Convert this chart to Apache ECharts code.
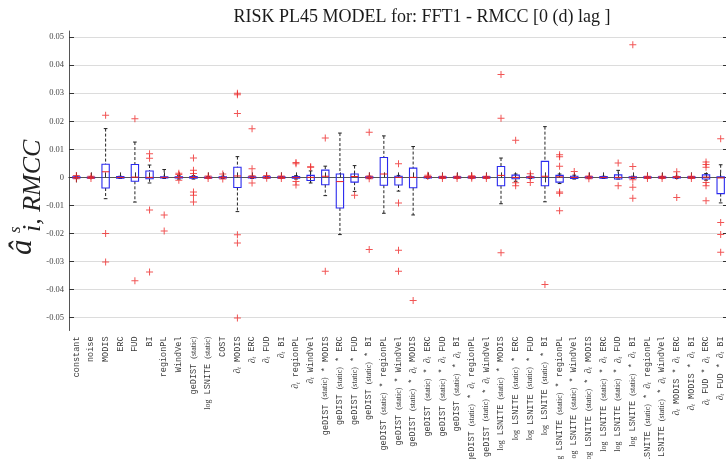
<!DOCTYPE html>
<html>
<head>
<meta charset="utf-8">
<script src="https://cdn.jsdelivr.net/npm/echarts@6/dist/echarts.min.js"></script>
<style>
  html, body { margin: 0; padding: 0; background: #fff; }
  #chart { width: 726px; height: 459px; }
</style>
</head>
<body>
<div id="chart"></div>
<script>
// Regressor names (x axis)
const categories = [
  'constant', 'noise', 'MODIS', 'ERC', 'FUD', 'BI', 'regionPL', 'WindVel',
  'geDIST (static)', 'log LSNITE (static)', 'COST',
  '∂t MODIS', '∂t ERC', '∂t FUD', '∂t BI', '∂t regionPL', '∂t WindVel',
  'geDIST (static) * MODIS', 'geDIST (static) * ERC', 'geDIST (static) * FUD',
  'geDIST (static) * BI', 'geDIST (static) * regionPL', 'geDIST (static) * WindVel',
  'geDIST (static) * ∂t MODIS', 'geDIST (static) * ∂t ERC', 'geDIST (static) * ∂t FUD',
  'geDIST (static) * ∂t BI', 'geDIST (static) * ∂t regionPL', 'geDIST (static) * ∂t WindVel',
  'log LSNITE (static) * MODIS', 'log LSNITE (static) * ERC', 'log LSNITE (static) * FUD',
  'log LSNITE (static) * BI', 'log LSNITE (static) * regionPL', 'log LSNITE (static) * WindVel',
  'log LSNITE (static) * ∂t MODIS', 'log LSNITE (static) * ∂t ERC', 'log LSNITE (static) * ∂t FUD',
  'log LSNITE (static) * ∂t BI', 'log LSNITE (static) * ∂t regionPL', 'log LSNITE (static) * ∂t WindVel',
  '∂t MODIS * ∂t ERC', '∂t MODIS * ∂t BI', '∂t FUD * ∂t ERC', '∂t FUD * ∂t BI'
];

// Box statistics per regressor
const whiskerLow = [
  -0.0003, -0.0002, -0.0076, -0.0004, -0.0088, -0.0020, -0.0004, -0.0006,
  -0.0006, -0.0003, -0.0004,
  -0.0122, -0.0004, -0.0003, -0.0003, -0.0006, -0.0020,
  -0.0065, -0.0204, -0.0050, -0.0004, -0.0128, -0.0049,
  -0.0134, -0.0003, -0.0003, -0.0003, -0.0003, -0.0003,
  -0.0094, -0.0014, -0.0004, -0.0087, -0.0022, -0.0006,
  -0.0003, -0.0004, -0.0006, -0.0004, -0.0003, -0.0003,
  -0.0004, -0.0003, -0.0010, -0.0091
];
const q1 = [
  -0.0002, -0.0001, -0.0038, -0.0003, -0.0014, -0.0005, -0.0002, -0.0002,
  -0.0003, -0.0001, -0.0002,
  -0.0036, -0.0002, -0.0002, -0.0002, -0.0003, -0.0011,
  -0.0026, -0.0109, -0.0017, -0.0002, -0.0028, -0.0027,
  -0.0037, -0.0002, -0.0002, -0.0002, -0.0002, -0.0002,
  -0.0030, -0.0005, -0.0002, -0.0030, -0.0017, -0.0004,
  -0.0002, -0.0003, -0.0006, -0.0002, -0.0002, -0.0002,
  -0.0002, -0.0002, -0.0006, -0.0058
];
const median = [
  0, 0, 0.0020, 0, 0.0001, 0, 0, 0,
  0, 0, 0,
  0.0005, 0, 0, 0, 0, 0,
  0.0004, -0.0015, 0.0003, 0, 0.0012, 0,
  0, 0, 0, 0, 0, 0,
  0.0007, 0, 0, 0.0004, 0.0002, 0,
  0, 0, 0, 0, 0, 0,
  0, 0, 0.0001, -0.0002
];
const q3 = [
  0.0002, 0.0001, 0.0047, 0.0003, 0.0046, 0.0023, 0.0002, 0.0002,
  0.0003, 0.0001, 0.0002,
  0.0036, 0.0002, 0.0002, 0.0002, 0.0003, 0.0007,
  0.0026, 0.0012, 0.0012, 0.0002, 0.0071, 0.0004,
  0.0033, 0.0002, 0.0002, 0.0002, 0.0002, 0.0002,
  0.0039, 0.0008, 0.0002, 0.0057, 0.0007, 0.0004,
  0.0002, 0.0003, 0.0009, 0.0002, 0.0002, 0.0002,
  0.0002, 0.0002, 0.0009, 0.0002
];
const whiskerHigh = [
  0.0004, 0.0002, 0.0174, 0.0004, 0.0126, 0.0044, 0.0028, 0.0006,
  0.0006, 0.0003, 0.0004,
  0.0074, 0.0004, 0.0003, 0.0003, 0.0006, 0.0023,
  0.0040, 0.0158, 0.0042, 0.0004, 0.0148, 0.0007,
  0.0110, 0.0003, 0.0003, 0.0003, 0.0003, 0.0003,
  0.0069, 0.0012, 0.0004, 0.0181, 0.0012, 0.0008,
  0.0003, 0.0004, 0.0025, 0.0004, 0.0003, 0.0003,
  0.0004, 0.0003, 0.0014, 0.0045
];

// Outlying estimates per regressor
const outlierValues = [
  [0.0007, -0.0005], [0.0004, -0.0004], [0.0222, -0.0200, -0.0302], [],
  [0.0209, -0.0369], [0.0084, 0.0068, -0.0116, -0.0337], [-0.0134, -0.0191],
  [0.0015, 0.0010, -0.0010],
  [0.0069, 0.0025, 0.0014, -0.0052, -0.0064, -0.0088], [0.0005, -0.0004], [0.0012, -0.0006],
  [0.0300, 0.0295, 0.0228, -0.0205, -0.0234, -0.0501], [0.0173, 0.0031, 0.0006, -0.0020],
  [0.0007, -0.0003], [0.0005, -0.0004], [0.0053, 0.0049, -0.0015, -0.0027], [0.0038, 0.0036],
  [0.0140, -0.0335], [], [-0.0064],
  [0.0161, 0.0005, -0.0005, -0.0257], [], [0.0049, -0.0091, -0.0260, -0.0335],
  [-0.0439], [0.0008, 0.0003], [0.0004, -0.0004],
  [0.0004, -0.0004], [0.0006, 0.0002, -0.0003], [0.0004, -0.0004],
  [0.0367, 0.0211, -0.0269], [0.0132, -0.0019, -0.0030], [0.0013, 0.0001, -0.0018],
  [-0.0382], [0.0081, 0.0074, 0.0040, -0.0052, -0.0057, -0.0119], [0.0021],
  [0.0005, -0.0005], [], [0.0051, -0.0030],
  [0.0473, 0.0039, -0.0008, -0.0035, -0.0074], [0.0004, -0.0004], [0.0004, -0.0004],
  [0.0020, 0.0003, -0.0072], [0.0004, -0.0004],
  [0.0055, 0.0046, 0.0036, -0.0018, -0.0030, -0.0083],
  [0.0138, -0.0161, -0.0204, -0.0267]
];

// Value axis ticks
const yTicks = [-0.05, -0.04, -0.03, -0.02, -0.01, 0, 0.01, 0.02, 0.03, 0.04, 0.05];
const yTickLabels = ['-0.05', '-0.04', '-0.03', '-0.02', '-0.01', '0', '0.01', '0.02', '0.03', '0.04', '0.05'];
const yMin = -0.0546;
const yMax = 0.0522;

const boxData = categories.map((c, i) => [i, whiskerLow[i], q1[i], median[i], q3[i], whiskerHigh[i]]);
const outlierData = [];
outlierValues.forEach((vals, i) => vals.forEach(v => outlierData.push([i, v])));

const monoFont = '"Liberation Mono", "DejaVu Sans Mono", monospace';
const serifFont = '"Liberation Serif", "DejaVu Serif", serif';

function richLabel(name) {
  return name
    .replace(/\(static\)/g, '{s|(static)}')
    .replace(/∂t/g, '{d|∂}{t|t}')
    .replace(/^log /, '{s|log} ');
}

const chart = echarts.init(document.getElementById('chart'), null, { renderer: 'canvas' });

const plusSymbol = 'path://M0,3H7V4H0Z M3,0H4V7H3Z';

chart.setOption({
  animation: false,
  backgroundColor: '#ffffff',
  title: {
    text: 'RISK PL45 MODEL for: FFT1 - RMCC [0 (d) lag ]',
    left: 417,
    textAlign: 'center',
    top: 3,
    textStyle: { fontFamily: serifFont, fontWeight: 'normal', fontSize: 18, color: '#1a1a1a' }
  },
  grid: { left: 69, right: -2, top: 31, bottom: 128.5, outerBoundsMode: 'none', containLabel: false },
  xAxis: [
    {
      type: 'category',
      data: categories,
      position: 'bottom',
      boundaryGap: true,
      axisLine: { show: true, lineStyle: { color: '#555', width: 1 } },
      axisTick: { show: true, inside: true, alignWithLabel: true, length: 5, lineStyle: { color: '#333' } },
      axisLabel: {
        interval: 0,
        rotate: 90,
        margin: 6,
        fontFamily: monoFont,
        fontSize: 8.5,
        color: '#3a3a3a',
        formatter: richLabel,
        rich: {
          s: { fontFamily: serifFont, fontSize: 8, color: '#3a3a3a' },
          d: { fontFamily: serifFont, fontStyle: 'italic', fontSize: 9.5, color: '#3a3a3a' },
          t: { fontFamily: serifFont, fontStyle: 'italic', fontSize: 6, color: '#3a3a3a', verticalAlign: 'bottom', lineHeight: 6 }
        }
      },
      splitLine: { show: false }
    },
    {
      type: 'category',
      data: categories,
      position: 'top',
      boundaryGap: true,
      axisLine: { show: true, lineStyle: { color: '#555', width: 1 } },
      axisTick: { show: true, inside: true, alignWithLabel: true, length: 5, lineStyle: { color: '#333' } },
      axisLabel: { show: false },
      splitLine: { show: false }
    }
  ],
  yAxis: [
    {
      type: 'value',
      min: yMin,
      max: yMax,
      position: 'left',
      axisLine: { show: true, lineStyle: { color: '#555', width: 1 } },
      axisTick: { show: true, inside: true, length: 5, customValues: yTicks, lineStyle: { color: '#333' } },
      axisLabel: {
        customValues: yTicks,
        margin: 5,
        fontFamily: serifFont,
        fontSize: 8.5,
        color: '#444',
        formatter: v => yTickLabels[yTicks.findIndex(t => Math.abs(t - v) < 1e-9)] ?? ''
      },
      splitLine: { show: true, lineStyle: { color: '#dcdcdc', width: 1 } }
    },
    {
      type: 'value',
      min: yMin,
      max: yMax,
      position: 'right',
      axisLine: { show: true, lineStyle: { color: '#555', width: 1 } },
      axisTick: { show: true, inside: true, length: 5, customValues: yTicks, lineStyle: { color: '#333' } },
      axisLabel: { show: false },
      splitLine: { show: false }
    }
  ],
  graphic: [
    {
      // Axis title: a-hat with superscript s and subscript "i, RMCC", read bottom to top
      type: 'group',
      x: 33,
      y: 255,
      rotation: Math.PI / 2,
      children: [
        { type: 'text', x: 0, y: -10, style: { text: 'â', font: 'italic 31px ' + serifFont, fill: '#222', verticalAlign: 'middle' } },
        { type: 'text', x: 22, y: -17, style: { text: 's', font: 'italic 17px ' + serifFont, fill: '#222', verticalAlign: 'middle' } },
        { type: 'text', x: 23, y: 0, style: { text: 'i, RMCC', font: 'italic 26px ' + serifFont, fill: '#222', verticalAlign: 'middle' } }
      ]
    }
  ],
  series: [
    {
      name: 'box',
      type: 'custom',
      xAxisIndex: 0,
      yAxisIndex: 0,
      data: boxData,
      z: 2,
      renderItem: function (params, api) {
        const i = api.value(0);
        const pLo = api.coord([i, api.value(1)]);
        const pQ1 = api.coord([i, api.value(2)]);
        const pMed = api.coord([i, api.value(3)]);
        const pQ3 = api.coord([i, api.value(4)]);
        const pHi = api.coord([i, api.value(5)]);
        const bw = api.size([1, 0])[0] * 0.5;
        const cw = bw * 0.5;
        const x = pMed[0];
        const whisker = { stroke: '#222', lineWidth: 1, lineDash: [3, 2] };
        const cap = { stroke: '#222', lineWidth: 1 };
        return {
          type: 'group',
          children: [
            { type: 'line', shape: { x1: x, y1: pHi[1], x2: x, y2: pQ3[1] }, style: whisker },
            { type: 'line', shape: { x1: x, y1: pQ1[1], x2: x, y2: pLo[1] }, style: whisker },
            { type: 'line', shape: { x1: x - cw / 2, y1: pHi[1], x2: x + cw / 2, y2: pHi[1] }, style: cap },
            { type: 'line', shape: { x1: x - cw / 2, y1: pLo[1], x2: x + cw / 2, y2: pLo[1] }, style: cap },
            {
              type: 'rect',
              shape: { x: x - bw / 2, y: pQ3[1], width: bw, height: Math.max(pQ1[1] - pQ3[1], 1) },
              style: { fill: 'none', stroke: '#2a2aee', lineWidth: 1.1 }
            },
            { type: 'line', shape: { x1: x - bw / 2, y1: pMed[1], x2: x + bw / 2, y2: pMed[1] }, style: { stroke: '#ee2222', lineWidth: 1 } }
          ]
        };
      }
    },
    {
      name: 'outliers',
      type: 'scatter',
      xAxisIndex: 0,
      yAxisIndex: 0,
      data: outlierData,
      symbol: plusSymbol,
      symbolSize: 7,
      z: 3,
      itemStyle: { color: '#ee2a2a' },
      emphasis: { disabled: true }
    }
  ]
});
</script>
</body>
</html>
